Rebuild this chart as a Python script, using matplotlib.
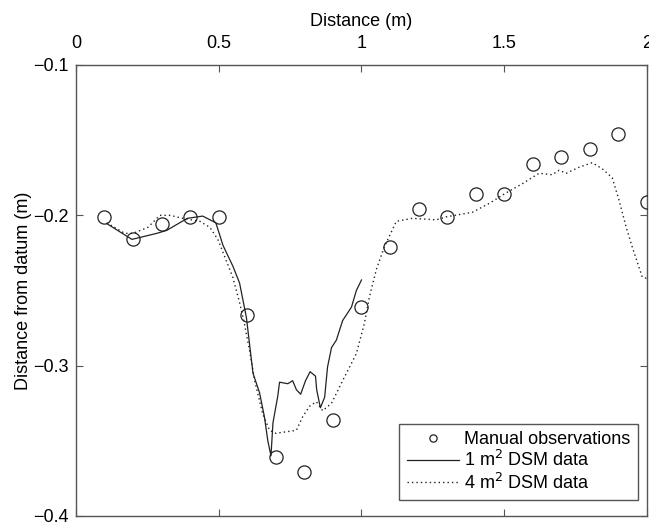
import numpy as np
import matplotlib.pyplot as plt

plt.rcParams['font.family'] = ['Liberation Sans', 'DejaVu Sans']

# Manual observations
obs_x = [0.1, 0.2, 0.3, 0.4, 0.5, 0.6, 0.7, 0.8, 0.9, 1.0,
         1.1, 1.2, 1.3, 1.4, 1.5, 1.6, 1.7, 1.8, 1.9, 2.0]
obs_y = [-0.201, -0.216, -0.206, -0.201, -0.201, -0.266, -0.361, -0.371, -0.336, -0.261,
         -0.221, -0.196, -0.201, -0.186, -0.186, -0.166, -0.161, -0.156, -0.146, -0.191]

# 1 m2 DSM profile
dsm1_x = [0.108, 0.196, 0.283, 0.318, 0.39, 0.444, 0.49, 0.515, 0.55, 0.573,
          0.597, 0.62, 0.643, 0.66, 0.672, 0.683, 0.69, 0.707, 0.713, 0.742,
          0.759, 0.772, 0.787, 0.804, 0.82, 0.839, 0.843, 0.856, 0.871, 0.881,
          0.895, 0.912, 0.934, 0.965, 0.982, 1.0]
dsm1_y = [-0.2055, -0.216, -0.212, -0.210, -0.202, -0.2005, -0.205, -0.220, -0.234, -0.245,
          -0.268, -0.305, -0.318, -0.334, -0.350, -0.360, -0.338, -0.320, -0.311, -0.312,
          -0.310, -0.316, -0.319, -0.310, -0.304, -0.307, -0.316, -0.328, -0.321, -0.301,
          -0.288, -0.283, -0.270, -0.261, -0.250, -0.243]

# 4 m2 DSM profile
dsm4_x = [0.108, 0.171, 0.2, 0.252, 0.294, 0.33, 0.374, 0.434, 0.469, 0.497,
          0.549, 0.573, 0.59, 0.608, 0.626, 0.654, 0.678, 0.7, 0.772, 0.794,
          0.818, 0.842, 0.864, 0.895, 0.934, 0.982, 1.01, 1.028, 1.052, 1.08,
          1.122, 1.178, 1.262, 1.297, 1.388, 1.448, 1.507, 1.563, 1.622, 1.668,
          1.692, 1.717, 1.762, 1.808, 1.843, 1.878, 1.902, 1.927, 1.948, 1.983, 2.0]
dsm4_y = [-0.205, -0.212, -0.212, -0.208, -0.200, -0.200, -0.202, -0.204, -0.208, -0.216,
          -0.241, -0.258, -0.272, -0.290, -0.310, -0.332, -0.343, -0.345, -0.343, -0.334,
          -0.327, -0.324, -0.330, -0.325, -0.310, -0.292, -0.272, -0.254, -0.236, -0.221,
          -0.204, -0.202, -0.203, -0.201, -0.198, -0.192, -0.185, -0.179, -0.172, -0.173,
          -0.170, -0.172, -0.168, -0.165, -0.169, -0.175, -0.190, -0.208, -0.221, -0.241, -0.242]

fig = plt.figure(figsize=(6.49, 5.22), dpi=100)
ax = fig.add_axes([0.117, 0.0115, 0.880, 0.864])

ax.plot(obs_x, obs_y, 'o', mfc='none', mec='#222222', ms=9.5, mew=0.9,
        label='Manual observations', zorder=3)
ax.plot(dsm1_x, dsm1_y, '-', color='#222222', lw=0.9, label='1 m$^2$ DSM data')
ax.plot(dsm4_x, dsm4_y, color='#222222', lw=1.0, ls=(0, (1, 2.2)),
        label='4 m$^2$ DSM data')

ax.set_xlim(0, 2)
ax.set_ylim(-0.4, -0.1)
ax.set_xticks([0, 0.5, 1, 1.5, 2])
ax.set_xticklabels(['0', '0.5', '1', '1.5', '2'])
ax.set_yticks([-0.4, -0.3, -0.2, -0.1])
ax.set_yticklabels(['\u22120.4', '\u22120.3', '\u22120.2', '\u22120.1'])

ax.xaxis.set_label_position('top')
ax.xaxis.tick_top()
ax.tick_params(axis='both', which='both', direction='in', length=5, width=0.8,
               top=True, bottom=True, left=True, right=True,
               labeltop=True, labelbottom=False, labelsize=13, colors='#555555',
               labelcolor='black')
ax.tick_params(axis='x', pad=9)
ax.tick_params(axis='y', pad=5)
for s in ax.spines.values():
    s.set_color('#555555')
    s.set_linewidth(1.0)

ax.set_xlabel('Distance (m)', fontsize=13, labelpad=7)
ax.set_ylabel('Distance from datum (m)', fontsize=13, labelpad=1)

leg = ax.legend(loc='lower right', bbox_to_anchor=(0.984, 0.0355), fontsize=13,
                markerscale=0.55, fancybox=False, edgecolor='#555555', framealpha=1,
                borderpad=0.4, labelspacing=0.12, handlelength=2.9, handletextpad=0.3,
                borderaxespad=0)
leg.get_frame().set_linewidth(1.0)

fig.savefig('out.png', dpi=100)
